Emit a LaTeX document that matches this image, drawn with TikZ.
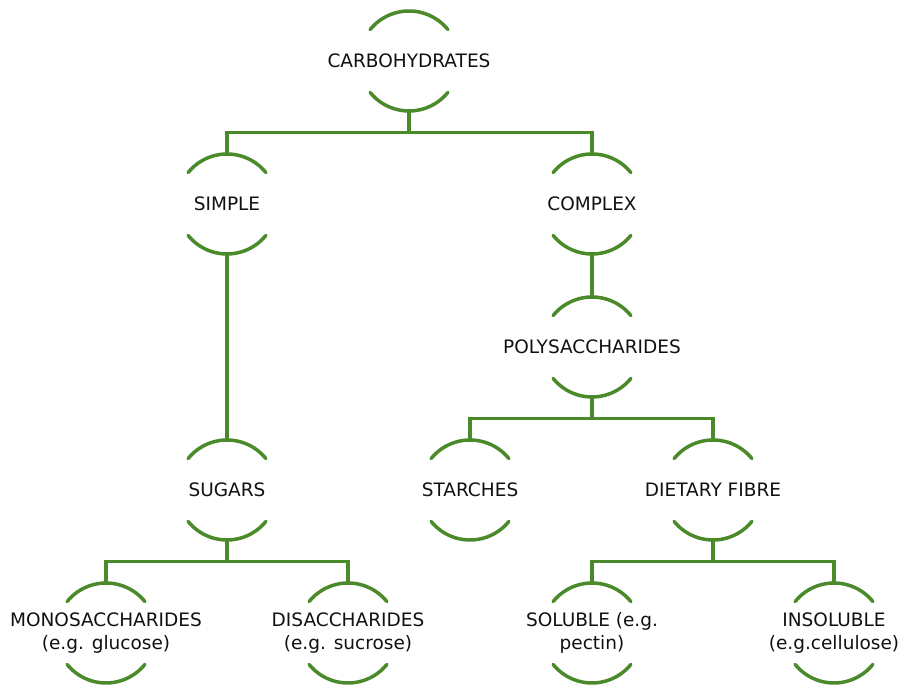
\documentclass[tikz,border=0pt]{standalone}
\usepackage{fontspec}
\setmainfont{DejaVu Sans}
\usetikzlibrary{calc}
\definecolor{leaf}{HTML}{4A8A2A}
\definecolor{ink}{HTML}{111111}
\tikzset{
  lbl/.style={align=center, text=ink, font=\fontsize{18.5bp}{23bp}\selectfont, inner sep=0pt},
  arcline/.style={draw=leaf, line width=3.5bp, line cap=round},
  link/.style={draw=leaf, line width=3.5bp},
}
\begin{document}
\begin{tikzpicture}[x=1bp,y=1bp]
\useasboundingbox[fill=white] (0,0) rectangle (905,686);
\node[lbl] (carb) at (409,625) {CARBOHYDRATES};
\node[lbl] (simple) at (227,482) {SIMPLE};
\node[lbl] (complex) at (592,482) {COMPLEX};
\node[lbl] (poly) at (592,339) {POLYSACCHARIDES};
\node[lbl] (sugars) at (227,196) {SUGARS};
\node[lbl] (starch) at (470,196) {STARCHES};
\node[lbl] (fibre) at (713,196) {DIETARY FIBRE};
\node[lbl] (mono) at (106,53) {MONOSACCHARIDES\\(e.g. glucose)};
\node[lbl] (di) at (348,53) {DISACCHARIDES\\(e.g. sucrose)};
\node[lbl] (sol) at (592,53) {SOLUBLE (e.g.\\pectin)};
\node[lbl] (insol) at (834,53) {INSOLUBLE\\(e.g.cellulose)};
\foreach \n in {carb,simple,complex,poly,sugars,starch,fibre,mono,di,sol,insol}{
  \draw[arcline] ([shift={(39:50)}]\n.center) arc[start angle=39,end angle=141,radius=50];
  \draw[arcline] ([shift={(219:50)}]\n.center) arc[start angle=219,end angle=321,radius=50];
}
\draw[link] ([yshift=-50]carb.center) -- ++(0,-21.5) -| ([yshift=50]simple.center);
\draw[link] ([yshift=-50]carb.center) -- ++(0,-21.5) -| ([yshift=50]complex.center);
\draw[link] ([yshift=-50]simple.center) -- ([yshift=50]sugars.center);
\draw[link] ([yshift=-50]complex.center) -- ([yshift=50]poly.center);
\draw[link] ([yshift=-50]poly.center) -- ++(0,-21.5) -| ([yshift=50]starch.center);
\draw[link] ([yshift=-50]poly.center) -- ++(0,-21.5) -| ([yshift=50]fibre.center);
\draw[link] ([yshift=-50]sugars.center) -- ++(0,-21.5) -| ([yshift=50]mono.center);
\draw[link] ([yshift=-50]sugars.center) -- ++(0,-21.5) -| ([yshift=50]di.center);
\draw[link] ([yshift=-50]fibre.center) -- ++(0,-21.5) -| ([yshift=50]sol.center);
\draw[link] ([yshift=-50]fibre.center) -- ++(0,-21.5) -| ([yshift=50]insol.center);
\end{tikzpicture}
\end{document}
